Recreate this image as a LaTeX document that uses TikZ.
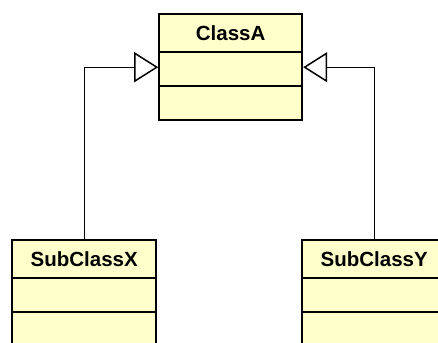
\documentclass[tikz,border=0pt]{standalone}
\usepackage{fontspec}
\setmainfont{Liberation Sans}
\usetikzlibrary{matrix,positioning,arrows.meta}
\definecolor{classfill}{RGB}{255,255,204}
\tikzset{
classmat/.style={
  matrix of nodes,
  nodes in empty cells,
  inner sep=0pt,
  row sep=-2pt,
  nodes={draw,fill=classfill,line width=2pt,minimum width=#1,inner sep=0pt,
    font=\bfseries\fontsize{20.5}{24}\selectfont},
  row 1/.style={nodes={minimum height=38pt}},
  row 2/.style={nodes={minimum height=34pt}},
  row 3/.style={nodes={minimum height=34pt}}
  },
inherit/.style={
  line width=1pt,
  -{Triangle[open,length=24pt,width=30pt,line width=1.5pt]}
  }
}

\begin{document}
\begin{tikzpicture}[x=1pt,y=1pt]
            \useasboundingbox (0,0) rectangle (438,342);
            \clip (0,0) rectangle (438,342);
            \matrix[classmat=143pt,anchor=north west] at (158,329) (classa)
            {
                ClassA \\
                \\
                \\
            };
            \matrix[classmat=144pt,anchor=north west] at (11,103) (subx)
            {
                SubClassX \\
                \\
                \\
            };
            \matrix[classmat=144pt,anchor=north west] at (301,103) (suby)
            {
                SubClassY \\
                \\
                \\
            };
            \draw[inherit] (subx-1-1.north) |- ([yshift=2pt]classa-2-1.west);
            \draw[inherit] (suby-1-1.north) |- ([yshift=2pt]classa-2-1.east);
        \end{tikzpicture}
\end{document}
